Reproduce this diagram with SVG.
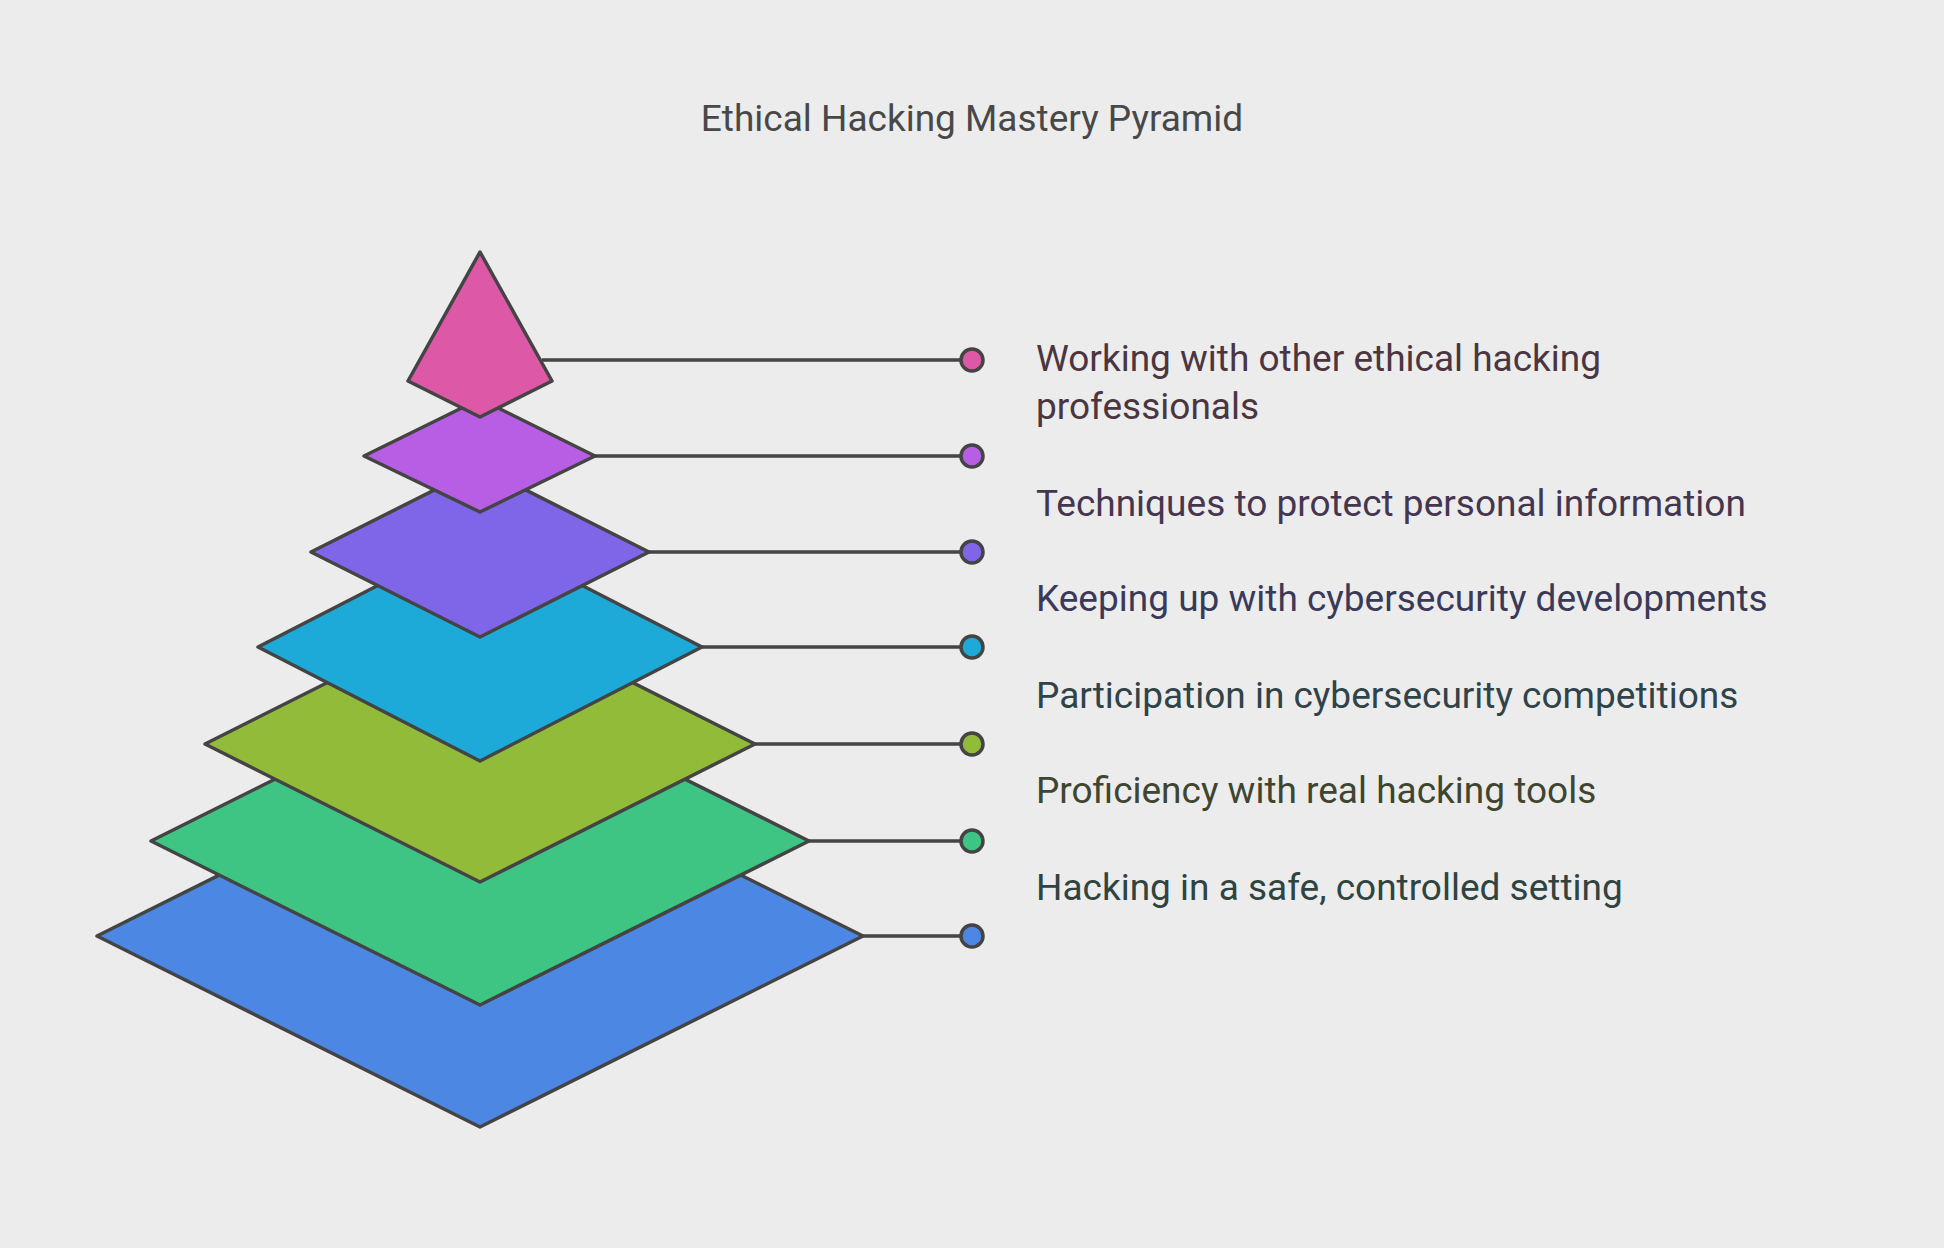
<svg xmlns="http://www.w3.org/2000/svg" width="1944" height="1248" viewBox="0 0 1944 1248">
<style>
.l{stroke:#444;stroke-width:3.5;stroke-linejoin:round}
.c{stroke:#444;stroke-width:3.5;fill:none}
.t{font-family:Roboto,"Liberation Sans",sans-serif;font-size:37px}
</style>
<rect width="1944" height="1248" fill="#ececec"/>
<text x="972" y="131" text-anchor="middle" class="t" fill="#484848">Ethical Hacking Mastery Pyramid</text>
<g id="connectors">
<path class="c" d="M863 936H960M809 841H960M754 744H960M702 647H960M648 552H960M594 456H960M542 360H960"/>
</g>
<g id="layer1"><polygon class="l" fill="#4d87e4" points="97,936 480,745 863,936 480,1127"/><circle class="l" cx="972" cy="936" r="11" fill="#4d87e4"/><text class="t" x="1036" y="900" fill="#2f4340">Hacking in a safe, controlled setting</text></g>
<g id="layer2"><polygon class="l" fill="#3ec583" points="151,841 480,677 809,841 480,1005"/><circle class="l" cx="972" cy="841" r="11" fill="#3ec583"/><text class="t" x="1036" y="803" fill="#3e4530">Proficiency with real hacking tools</text></g>
<g id="layer3"><polygon class="l" fill="#92bb3a" points="205,744 480,606 755,744 480,882"/><circle class="l" cx="972" cy="744" r="11" fill="#92bb3a"/><text class="t" x="1036" y="708" fill="#2f4348">Participation in cybersecurity competitions</text></g>
<g id="layer4"><polygon class="l" fill="#1eaad9" points="258,647 480,533 702,647 480,761"/><circle class="l" cx="972" cy="647" r="11" fill="#1eaad9"/><text class="t" x="1036" y="611" fill="#3a3a58">Keeping up with cybersecurity developments</text></g>
<g id="layer5"><polygon class="l" fill="#7f66e8" points="311,552 480,467 649,552 480,637"/><circle class="l" cx="972" cy="552" r="11" fill="#7f66e8"/><text class="t" x="1036" y="516" fill="#45364f">Techniques to protect personal information</text></g>
<g id="layer6"><polygon class="l" fill="#b85ee5" points="364,456 480,399 595,456 480,512"/><circle class="l" cx="972" cy="456" r="11" fill="#b85ee5"/></g>
<g id="layer7"><polygon class="l" fill="#dd58a6" points="480,252 552,381 480,417 408,381"/><circle class="l" cx="972" cy="360" r="11" fill="#dd58a6"/><text class="t" x="1036" y="371" fill="#4a3540">Working with other ethical hacking</text><text class="t" x="1036" y="419" fill="#4a3540">professionals</text></g>
</svg>
